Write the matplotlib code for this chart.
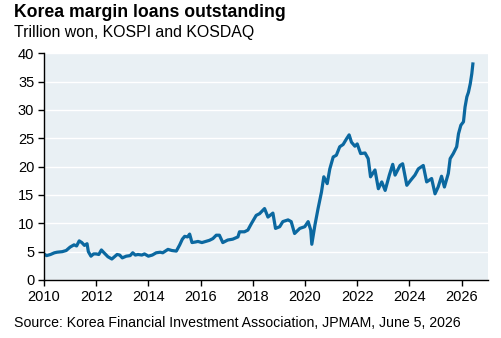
import matplotlib
matplotlib.use("Agg")
import matplotlib.pyplot as plt

plt.rcParams['font.family'] = ['Liberation Sans', 'DejaVu Sans']

# margin loans, trillion won
years = [2010.0, 2010.1, 2010.25, 2010.4, 2010.5, 2010.7, 2010.85, 2011.0, 2011.15, 2011.25,
         2011.35, 2011.45, 2011.55, 2011.65, 2011.7, 2011.8, 2011.9, 2012.0, 2012.1, 2012.2,
         2012.3, 2012.45, 2012.6, 2012.7, 2012.8, 2012.9, 2013.0, 2013.15, 2013.3, 2013.4,
         2013.5, 2013.6, 2013.75, 2013.85, 2014.0, 2014.15, 2014.3, 2014.45, 2014.55, 2014.75,
         2014.9, 2015.07, 2015.2, 2015.3, 2015.39, 2015.5, 2015.58, 2015.67, 2015.8, 2015.9,
         2016.05, 2016.2, 2016.34, 2016.47, 2016.6, 2016.72, 2016.85, 2017.04, 2017.23, 2017.43,
         2017.49, 2017.68, 2017.81, 2017.94, 2018.04, 2018.13, 2018.26, 2018.45, 2018.58, 2018.77,
         2018.87, 2019.03, 2019.15, 2019.35, 2019.47, 2019.6, 2019.8, 2019.99, 2020.12, 2020.22,
         2020.26, 2020.38, 2020.5, 2020.63, 2020.72, 2020.85, 2020.95, 2021.08, 2021.2, 2021.33,
         2021.46, 2021.59, 2021.69, 2021.78, 2021.91, 2022.0, 2022.13, 2022.3, 2022.42, 2022.51,
         2022.68, 2022.81, 2022.94, 2023.07, 2023.23, 2023.36, 2023.45, 2023.64, 2023.74, 2023.9,
         2024.05, 2024.21, 2024.34, 2024.53, 2024.66, 2024.85, 2024.98, 2025.1, 2025.23, 2025.34,
         2025.49, 2025.56, 2025.68, 2025.81, 2025.88, 2025.97, 2026.07, 2026.13, 2026.2, 2026.26,
         2026.33, 2026.39, 2026.43]
loans = [4.6, 4.3, 4.5, 4.8, 4.9, 5.0, 5.2, 5.8, 6.2, 6.0,
         6.9, 6.6, 6.1, 6.4, 5.0, 4.2, 4.6, 4.6, 4.5, 5.3,
         4.8, 4.1, 3.7, 4.1, 4.5, 4.4, 3.9, 4.2, 4.3, 4.8,
         4.4, 4.5, 4.4, 4.6, 4.2, 4.4, 4.8, 4.9, 4.8, 5.4,
         5.2, 5.1, 6.2, 7.2, 7.7, 7.6, 8.1, 6.6, 6.7, 6.8,
         6.6, 6.8, 7.0, 7.3, 7.9, 7.9, 6.6, 7.05, 7.2, 7.6,
         8.5, 8.5, 8.8, 9.9, 10.7, 11.4, 11.7, 12.6, 11.1, 11.8,
         9.1, 9.4, 10.3, 10.6, 10.3, 8.2, 9.1, 9.4, 10.3, 8.8,
         6.3, 9.7, 12.6, 15.5, 18.2, 17.0, 19.6, 21.7, 22.0, 23.5,
         23.9, 24.9, 25.6, 24.3, 23.6, 24.0, 22.3, 22.4, 21.4, 18.2,
         19.4, 16.1, 17.3, 15.8, 18.5, 20.4, 18.5, 20.2, 20.5, 16.7,
         17.6, 18.5, 19.6, 20.2, 17.3, 17.9, 15.2, 16.4, 18.3, 16.4,
         18.8, 21.4, 22.3, 23.5, 25.8, 27.3, 27.9, 30.5, 32.3, 33.1,
         34.6, 36.4, 38.1]

xticks = list(range(2010, 2027, 2))
yticks = list(range(0, 41, 5))

fig = plt.figure(figsize=(5.02, 3.38), dpi=100)
ax = fig.add_axes([0.0876, 0.1716, 0.884, 0.671])
ax.set_facecolor('#E9F0F4')

ax.plot(years, loans, color='#0B68A0', linewidth=2.3, solid_joinstyle='round')

ax.set_xlim(2010, 2027)
ax.set_ylim(0, 40)
ax.set_xticks(xticks)
ax.set_yticks(yticks)
ax.set_xticklabels([str(x) for x in xticks])
ax.grid(axis='y', color='white', linewidth=1.0)
ax.set_axisbelow(True)
for s in ['top', 'right']:
    ax.spines[s].set_visible(False)
for s in ['left', 'bottom']:
    ax.spines[s].set_color('black')
    ax.spines[s].set_linewidth(1.0)
ax.tick_params(axis='both', length=4, width=1, color='black', labelsize=10.5, pad=3)

fig.text(0.028, 0.962, 'Korea margin loans outstanding', fontsize=12.7, fontweight='bold', va='center')
fig.text(0.028, 0.905, 'Trillion won, KOSPI and KOSDAQ', fontsize=11.4, va='center')
fig.text(0.028, 0.044, 'Source: Korea Financial Investment Association, JPMAM, June 5, 2026',
         fontsize=10.15, va='center')

fig.savefig('out.png', dpi=100)
